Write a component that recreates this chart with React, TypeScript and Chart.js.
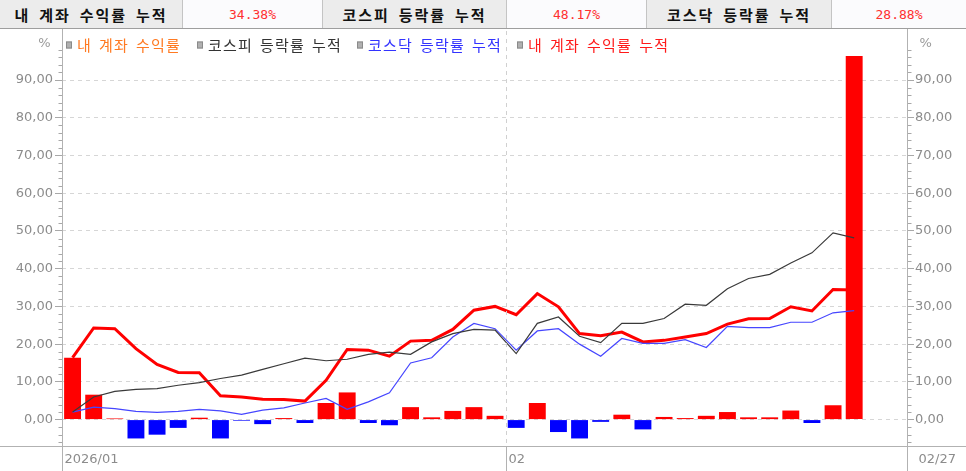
import { useEffect, useRef } from "react";
import { Chart, registerables } from "chart.js";

Chart.register(...registerables);

// trading days, 2026/01/02 ~ 2026/02/27
const dates = [
    "01/02", "01/05", "01/06", "01/07", "01/08", "01/09", "01/12", "01/13", "01/14", "01/15",
    "01/16", "01/19", "01/20", "01/21", "01/22", "01/23", "01/26", "01/27", "01/28", "01/29",
    "01/30", "02/02", "02/03", "02/04", "02/05", "02/06", "02/09", "02/10", "02/11", "02/12",
    "02/13", "02/19", "02/20", "02/23", "02/24", "02/25", "02/26", "02/27",
];

// 내 계좌 수익률 (bars)
const myDaily = [
    16.4, 6.6, 0.3, -5.0, -4.0, -2.2, 0.5, -5.0, -0.3, -1.2,
    0.4, -0.9, 4.4, 7.2, -0.9, -1.5, 3.3, 0.6, 2.3, 3.3,
    1.0, -2.2, 4.4, -3.3, -5.0, -0.6, 1.3, -2.6, 0.7, 0.4,
    1.0, 2.0, 0.6, 0.6, 2.4, -0.9, 3.8, 96.4,
];

// 내 계좌 수익률 누적
const myCumulative = [
    16.4, 24.3, 24.1, 18.8, 14.6, 12.5, 12.4, 6.3, 6.0, 5.4,
    5.3, 4.9, 10.4, 18.6, 18.4, 16.8, 20.8, 21.0, 23.9, 29.0,
    30.0, 27.8, 33.4, 29.9, 22.8, 22.2, 23.2, 20.6, 21.0, 21.9,
    22.8, 25.3, 26.7, 26.8, 29.9, 28.8, 34.5, 34.38,
];

// 코스피 등락률 누적
const kospiCumulative = [
    2.0, 6.0, 7.5, 8.0, 8.2, 9.1, 9.8, 10.9, 11.8, 13.3,
    14.8, 16.3, 15.6, 16.0, 17.3, 17.9, 17.3, 20.6, 22.8, 23.9,
    23.7, 17.5, 25.5, 27.2, 22.1, 20.4, 25.5, 25.5, 26.8, 30.6,
    30.3, 34.7, 37.4, 38.5, 41.5, 44.2, 49.5, 48.17,
];

// 코스닥 등락률 누적
const kosdaqCumulative = [
    2.0, 3.3, 2.9, 2.2, 1.9, 2.2, 2.7, 2.3, 1.4, 2.5,
    3.1, 4.4, 5.6, 2.7, 4.7, 7.1, 15.0, 16.4, 21.9, 25.5,
    24.1, 18.4, 23.5, 24.1, 20.0, 16.8, 21.5, 20.2, 20.2, 21.2,
    19.1, 24.7, 24.4, 24.4, 25.8, 25.8, 28.3, 28.88,
];

const yTicks = [0, 10, 20, 30, 40, 50, 60, 70, 80, 90];
const monthLabels = ["2026/01", "02"];
const lastDateLabel = "02/27";

const summaryNames = ["내 계좌 수익률 누적", "코스피 등락률 누적", "코스닥 등락률 누적"];
const summaryValues = ["34.38%", "48.17%", "28.88%"];

const legendNames = ["내 계좌 수익률", "코스피 등락률 누적", "코스닥 등락률 누적", "내 계좌 수익률 누적"];
const legendColors = ["#ff7a22", "#333333", "#3333ff", "#ff1a1a"];
const legendX = [66, 197, 357, 517];

const fmt = (v: number) => v.toFixed(2).replace(".", ",");

const overlay = {
    id: "overlay",
    afterDraw(chart: any) {
        const { ctx, chartArea, scales } = chart;
        const { left, right, top, bottom } = chartArea;
        const x = scales.x;
        const y = scales.y;
        const H = chart.height;
        const W = chart.width;
        const L = Math.round(left) + 0.5;
        const R = Math.round(right) + 0.5;
        const B = Math.round(bottom) + 0.5;

        ctx.save();
        ctx.lineWidth = 1;

        // minor ticks
        ctx.strokeStyle = "#a8a8a8";
        ctx.beginPath();
        for (let v = -6; v <= 98; v += 2) {
            if (v % 10 === 0 && v >= 0 && v <= 90) continue;
            const py = Math.round(y.getPixelForValue(v)) + 0.5;
            ctx.moveTo(L - 4, py);
            ctx.lineTo(L, py);
            ctx.moveTo(R, py);
            ctx.lineTo(R + 4, py);
        }
        ctx.stroke();

        // frame
        ctx.strokeStyle = "#b2b2b2";
        ctx.beginPath();
        ctx.moveTo(L, 0);
        ctx.lineTo(L, H);
        ctx.moveTo(R, 0);
        ctx.lineTo(R, H);
        ctx.moveTo(0, B);
        ctx.lineTo(W, B);
        ctx.stroke();

        // month separator
        const monthStart = dates.findIndex((d) => d.startsWith("02/"));
        const half = (x.getPixelForValue(1) - x.getPixelForValue(0)) / 2;
        const sep = Math.round(x.getPixelForValue(monthStart) - half) + 0.5;
        ctx.strokeStyle = "#d0d0d0";
        ctx.setLineDash([4, 4]);
        ctx.beginPath();
        ctx.moveTo(sep, top);
        ctx.lineTo(sep, B);
        ctx.stroke();
        ctx.setLineDash([]);
        ctx.strokeStyle = "#b2b2b2";
        ctx.beginPath();
        ctx.moveTo(sep, B);
        ctx.lineTo(sep, H);
        ctx.stroke();

        // bottom labels
        ctx.font = "13px 'DejaVu Sans'";
        ctx.fillStyle = "#8c8c8c";
        ctx.textBaseline = "middle";
        ctx.textAlign = "left";
        const ly = (B + H) / 2 + 1;
        ctx.fillText(monthLabels[0], L + 2, ly);
        ctx.fillText(monthLabels[1], sep + 2, ly);
        ctx.fillText(lastDateLabel, R + 11, ly);

        // unit labels
        ctx.fillStyle = "#9a9a9a";
        ctx.textAlign = "right";
        ctx.fillText("%", L - 12, top + 13);
        ctx.textAlign = "left";
        ctx.fillText("%", R + 12, top + 13);

        // legend
        ctx.font = "15px 'Noto Sans CJK KR'";
        ctx.letterSpacing = "1.2px";
        ctx.wordSpacing = "2.5px";
        const legY = top + 14;
        legendNames.forEach((name, i) => {
            const sx = legendX[i];
            ctx.fillStyle = "#b0b0b0";
            ctx.strokeStyle = "#8a8a8a";
            ctx.fillRect(sx, legY - 3.5, 6, 7);
            ctx.strokeRect(sx + 0.5, legY - 3, 5, 6);
            ctx.fillStyle = legendColors[i];
            ctx.textAlign = "left";
            ctx.fillText(name, sx + 11, legY);
        });

        ctx.restore();
    },
};

const ChartView: React.FC = () => {
    const chartRef = useRef<HTMLCanvasElement>(null);

    useEffect(() => {
        if (!chartRef.current) return;
        const ctx = chartRef.current.getContext("2d");
        if (!ctx) return;

        const labels = [...dates, "", ""];

        const yCommon = {
            min: -7,
            max: 103,
            afterBuildTicks: (axis: any) => {
                axis.ticks = yTicks.map((v) => ({ value: v }));
            },
        };

        const chart = new Chart(ctx, {
            type: "bar",
            data: {
                labels,
                datasets: [
                    {
                        type: "line",
                        label: "코스피 등락률 누적",
                        data: kospiCumulative,
                        borderColor: "#3a3a3a",
                        borderWidth: 1.2,
                        pointRadius: 0,
                        tension: 0,
                        order: 0,
                    },
                    {
                        type: "line",
                        label: "코스닥 등락률 누적",
                        data: kosdaqCumulative,
                        borderColor: "#4646ff",
                        borderWidth: 1.2,
                        pointRadius: 0,
                        tension: 0,
                        order: 0,
                    },
                    {
                        type: "bar",
                        label: "내 계좌 수익률",
                        data: myDaily,
                        backgroundColor: myDaily.map((v) => (v >= 0 ? "#ff0000" : "#0000ff")),
                        borderWidth: 0,
                        barPercentage: 0.8,
                        categoryPercentage: 1,
                        order: 1,
                    },
                    {
                        type: "line",
                        label: "내 계좌 수익률 누적",
                        data: myCumulative,
                        borderColor: "#ff0000",
                        borderWidth: 3,
                        pointRadius: 0,
                        tension: 0,
                        order: 2,
                    },
                ],
            },
            options: {
                responsive: true,
                maintainAspectRatio: false,
                animation: false,
                layout: { padding: { top: 2, left: 0, right: 0, bottom: 0 } },
                plugins: {
                    legend: { display: false },
                    tooltip: { enabled: false },
                },
                scales: {
                    x: {
                        type: "category",
                        offset: true,
                        grid: { display: false },
                        border: { display: false },
                        ticks: { display: false },
                        afterFit: (scale: any) => {
                            scale.height = 25;
                            scale.paddingLeft = 0;
                            scale.paddingRight = 0;
                        },
                    },
                    y: {
                        ...yCommon,
                        position: "left",
                        border: { display: false, dash: [4, 4] },
                        grid: {
                            color: "#d6d6d6",
                            tickColor: "#a8a8a8",
                            tickLength: 7,
                        },
                        ticks: {
                            color: "#8c8c8c",
                            font: { family: "'DejaVu Sans'", size: 13 },
                            padding: 2,
                            autoSkip: false,
                            callback: (v: any) => fmt(Number(v)),
                        },
                        afterFit: (scale: any) => {
                            scale.width = 62;
                            scale.paddingTop = 0;
                            scale.paddingBottom = 0;
                        },
                    },
                    y1: {
                        ...yCommon,
                        position: "right",
                        display: true,
                        border: { display: false },
                        grid: {
                            drawOnChartArea: false,
                            tickColor: "#a8a8a8",
                            tickLength: 7,
                        },
                        ticks: {
                            color: "#8c8c8c",
                            font: { family: "'DejaVu Sans'", size: 13 },
                            padding: 1,
                            autoSkip: false,
                            callback: (v: any) => fmt(Number(v)),
                        },
                        afterFit: (scale: any) => {
                            scale.width = 59;
                            scale.paddingTop = 0;
                            scale.paddingBottom = 0;
                        },
                    },
                },
            },
            plugins: [overlay],
        });

        return () => {
            chart.destroy();
        };
    }, []);

    return (
        <div style={{ position: "relative", width: 966, height: 442 }}>
            <canvas ref={chartRef}></canvas>
        </div>
    );
};

const nameWidths = [183, 185, 186];
const valueWidths = [139, 139, 134];

const App: React.FC = () => {
    return (
        <div
            style={{
                position: "fixed",
                left: 0,
                top: 0,
                width: 966,
                height: 471,
                background: "#ffffff",
                overflow: "hidden",
            }}
        >
            <div
                style={{
                    display: "flex",
                    height: 29,
                    boxSizing: "border-box",
                    borderBottom: "1px solid #9e9e9e",
                }}
            >
                {summaryNames.map((name, i) => (
                    <div key={name} style={{ display: "flex" }}>
                        <div
                            style={{
                                width: nameWidths[i],
                                boxSizing: "border-box",
                                background: "#ececec",
                                borderRight: "1px solid #c4c4c4",
                                borderLeft: i === 0 ? "none" : "1px solid #c4c4c4",
                                display: "flex",
                                alignItems: "center",
                                justifyContent: "center",
                                fontFamily: "'Noto Sans CJK KR'",
                                fontWeight: 700,
                                fontSize: 15,
                                letterSpacing: 2,
                                wordSpacing: 3.5,
                                color: "#111",
                            }}
                        >
                            {name}
                        </div>
                        <div
                            style={{
                                width: valueWidths[i],
                                boxSizing: "border-box",
                                background: "#fbfbfd",
                                display: "flex",
                                alignItems: "center",
                                justifyContent: "center",
                                fontFamily: "'DejaVu Sans Mono'",
                                fontSize: 13,
                                color: "#ff3030",
                            }}
                        >
                            {summaryValues[i]}
                        </div>
                    </div>
                ))}
            </div>
            <ChartView />
        </div>
    );
};

export default App;
